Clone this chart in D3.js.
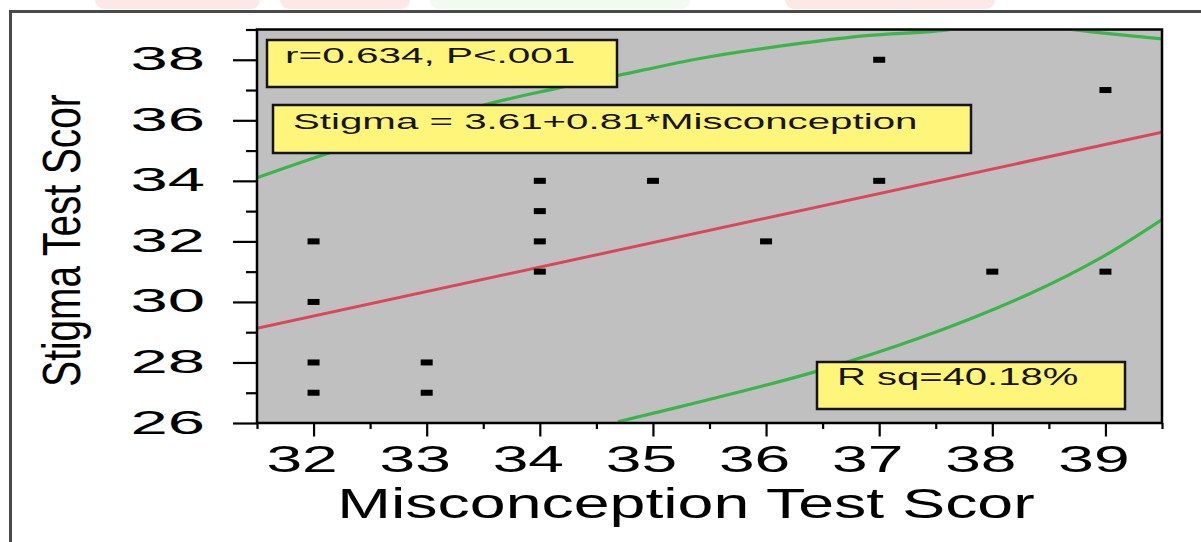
<!DOCTYPE html>
<html>
<head>
<meta charset="utf-8">
<script src="https://cdn.jsdelivr.net/npm/d3@7"></script>
<style>
  body { margin: 0; background: #fff; }
  svg { display: block; font-family: "Liberation Sans", Arial, sans-serif; }
</style>
</head>
<body>
<div id="chart"></div>
<script>
// data
const misconception = [32, 32, 32, 32, 33, 33, 34, 34, 34, 34, 35, 36, 37, 37, 38, 39, 39];
const stigma        = [32, 30, 28, 27, 28, 27, 34, 33, 32, 31, 34, 32, 38, 34, 31, 37, 31];

const xTicks = [32, 33, 34, 35, 36, 37, 38, 39];
const xMinorTicks = [31.5, 32.5, 33.5, 34.5, 35.5, 36.5, 37.5, 38.5, 39.5];
const yTicks = [26, 28, 30, 32, 34, 36, 38];
const yMinorTicks = [27, 29, 31, 33, 35, 37, 39];

// Stigma = intercept + slope * Misconception
const fitCoef = [3.61, 0.81];

// green ellipse (misconception, stigma)
const ellipseUpper = [[31.5, 34.1], [32.13, 34.91], [33.49, 36.49], [34.13, 37.04], [34.69, 37.48],
  [35.44, 38.06], [36.30, 38.54], [36.89, 38.80], [37.48, 38.94], [38.17, 39.2], [38.86, 38.93], [39.5, 38.69]];
const ellipseLower = [[34.69, 26.04], [35.48, 26.76], [36.43, 27.69], [37.38, 28.84], [38.33, 30.27],
  [38.97, 31.48], [39.5, 32.72]];

const notes = ["r=0.634, P<.001", "Stigma = 3.61+0.81*Misconception", "R sq=40.18%"];
const xTitle = "Misconception Test Scor";
const yTitle = "Stigma Test Scor";

const WIDTH = 1201, HEIGHT = 542;
const plot = { left: 257, right: 1162, top: 29.5, bottom: 423 };

const svg = d3.select("#chart").append("svg")
  .attr("width", WIDTH)
  .attr("height", HEIGHT);

// faint watermark bits cut off at the very top
const wm = svg.append("g");
wm.append("rect").attr("x", 95).attr("y", -10).attr("width", 165).attr("height", 19).attr("rx", 9).attr("fill", "#fde8e8");
wm.append("rect").attr("x", 280).attr("y", -10).attr("width", 130).attr("height", 19).attr("rx", 9).attr("fill", "#fde8e8");
wm.append("rect").attr("x", 430).attr("y", -10).attr("width", 260).attr("height", 19).attr("rx", 9).attr("fill", "#f2fbef");
wm.append("rect").attr("x", 785).attr("y", -10).attr("width", 210).attr("height", 19).attr("rx", 9).attr("fill", "#fde8e8");

// outer frame (only top and left visible)
svg.append("path")
  .attr("d", `M10.5,${HEIGHT} V11.5 H${WIDTH}`)
  .attr("fill", "none")
  .attr("stroke", "#4a4a4a")
  .attr("stroke-width", 3);

const x = d3.scaleLinear().domain([31.5, 39.5]).range([plot.left, plot.right]);
const y = d3.scaleLinear().domain([26, 39]).range([plot.bottom, plot.top]);

const defs = svg.append("defs");
defs.append("clipPath").attr("id", "plot-clip")
  .append("rect")
  .attr("x", plot.left).attr("y", plot.top)
  .attr("width", plot.right - plot.left).attr("height", plot.bottom - plot.top);
// the ellipse is cut a bit below the top border
defs.append("clipPath").attr("id", "ellipse-clip")
  .append("rect")
  .attr("x", plot.left).attr("y", plot.top + 1.5)
  .attr("width", plot.right - plot.left).attr("height", plot.bottom - plot.top - 1.5);

svg.append("rect")
  .attr("x", plot.left).attr("y", plot.top)
  .attr("width", plot.right - plot.left).attr("height", plot.bottom - plot.top)
  .attr("fill", "#c0c0c0");

const curve = d3.line()
  .x(d => x(d[0]))
  .y(d => y(d[1]))
  .curve(d3.curveCatmullRom);

const ellipseG = svg.append("g").attr("clip-path", "url(#ellipse-clip)");
[ellipseUpper, ellipseLower].forEach(pts => {
  ellipseG.append("path")
    .attr("d", curve(pts))
    .attr("fill", "none")
    .attr("stroke", "#3bb54a")
    .attr("stroke-width", 3.2);
});

// regression line
const xd = x.domain();
svg.append("g").attr("clip-path", "url(#plot-clip)")
  .append("path")
  .attr("d", d3.line()(xd.map(v => [x(v), y(fitCoef[0] + fitCoef[1] * v)])))
  .attr("stroke", "#d94858")
  .attr("stroke-width", 3);

// points drawn as small wide dashes
svg.selectAll(".pt")
  .data(misconception.map((m, i) => [m, stigma[i]]))
  .enter().append("rect")
  .attr("class", "pt")
  .attr("x", d => x(d[0]) - 6)
  .attr("y", d => y(d[1]) - 3)
  .attr("width", 12)
  .attr("height", 6)
  .attr("fill", "#000");

// yellow annotation boxes
function noteBox(x0, y0, x1, y1, label, tx, ty, size, sx) {
  svg.append("rect")
    .attr("x", x0).attr("y", y0)
    .attr("width", x1 - x0).attr("height", y1 - y0)
    .attr("fill", "#fff57a")
    .attr("stroke", "#141414")
    .attr("stroke-width", 2.5);
  svg.append("text")
    .attr("transform", `translate(${tx},${ty}) scale(${sx},1)`)
    .attr("font-size", size)
    .attr("fill", "#151515")
    .text(label);
}
noteBox(267, 40, 617, 87, notes[0], 285, 63, 22.5, 1.80);
noteBox(273, 105, 971, 153, notes[1], 293, 128.5, 22.5, 1.79);
noteBox(817, 362, 1125, 409, notes[2], 837, 385, 23, 1.74);

// plot border
svg.append("rect")
  .attr("x", plot.left).attr("y", plot.top)
  .attr("width", plot.right - plot.left).attr("height", plot.bottom - plot.top)
  .attr("fill", "none")
  .attr("stroke", "#000")
  .attr("stroke-width", 2.5);

// axes
function styleAxis(g) {
  g.attr("font-family", null).attr("font-size", null);
  g.select(".domain").remove();
  g.selectAll(".tick line").attr("stroke", "#000").attr("stroke-width", 2.2);
}

const yAxisG = svg.append("g")
  .attr("transform", `translate(${plot.left},0)`)
  .call(d3.axisLeft(y).tickValues(yTicks).tickSize(24).tickFormat(d3.format("d")))
  .call(styleAxis);
yAxisG.selectAll(".tick text")
  .attr("x", null).attr("dy", null)
  .attr("transform", "translate(-52,10) scale(2,1)")
  .attr("text-anchor", "end")
  .attr("font-size", 33.5)
  .attr("fill", "#000");

svg.append("g")
  .attr("transform", `translate(${plot.left},0)`)
  .call(d3.axisLeft(y).tickValues(yMinorTicks).tickSize(11).tickFormat(""))
  .call(styleAxis);

const xAxisG = svg.append("g")
  .attr("transform", `translate(0,${plot.bottom})`)
  .call(d3.axisBottom(x).tickValues(xTicks).tickSize(13.5).tickFormat(d3.format("d")))
  .call(styleAxis);
xAxisG.selectAll(".tick text")
  .attr("y", null).attr("dy", null)
  .attr("transform", "translate(-12,49) scale(1.71,1)")
  .attr("text-anchor", "middle")
  .attr("font-size", 37.5)
  .attr("fill", "#000");

svg.append("g")
  .attr("transform", `translate(0,${plot.bottom})`)
  .call(d3.axisBottom(x).tickValues(xMinorTicks).tickSize(6).tickFormat(""))
  .call(styleAxis);

// axis titles
svg.append("text")
  .attr("transform", "translate(686,518) scale(1.535,1)")
  .attr("text-anchor", "middle")
  .attr("font-size", 42)
  .attr("fill", "#000")
  .text(xTitle);

svg.append("text")
  .attr("transform", "translate(80,240.5) rotate(-90) scale(0.732,1)")
  .attr("text-anchor", "middle")
  .attr("font-size", 53)
  .attr("fill", "#000")
  .text(yTitle);
</script>
</body>
</html>
